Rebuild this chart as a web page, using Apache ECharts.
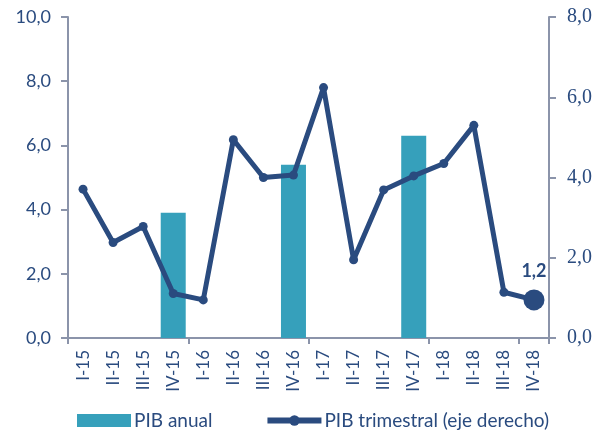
<!DOCTYPE html>
<html>
<head>
<meta charset="utf-8">
<script src="https://cdn.jsdelivr.net/npm/echarts@6/dist/echarts.min.js"></script>
<style>html,body{margin:0;padding:0;background:#fff}#c{width:605px;height:434px}</style>
</head>
<body>
<div id="c"></div>
<script>
var categories = ['I-15','II-15','III-15','IV-15','I-16','II-16','III-16','IV-16','I-17','II-17','III-17','IV-17','I-18','II-18','III-18','IV-18'];
var pibAnual = [null,null,null,3.9,null,null,null,5.4,null,null,null,6.3,null,null,null,null];
var pibTrimestral = [3.71,2.38,2.78,1.11,0.95,4.94,4.0,4.06,6.24,1.95,3.69,4.04,4.35,5.30,1.14,0.95];
var lastLabel = '1,2';
var leftTicks = [0,2,4,6,8,10];
var rightTicks = [0,2,4,6,8];

var navy = '#2a4b7f', teal = '#36a0bb', axisCol = '#8b94aa';
var chart = echarts.init(document.getElementById('c'));
var lineData = pibTrimestral.map(function(v,i){
  if (i === pibTrimestral.length-1) {
    return {value:v, symbolSize:21, label:{show:true, position:'top', distance:9, formatter:lastLabel,
      fontFamily:'Lato', fontWeight:'bold', fontSize:18, color:navy}};
  }
  return v;
});
chart.setOption({
  animation:false,
  grid:{left:68,right:56,top:17,bottom:96},
  legend:{
    left:72, top:406, itemWidth:54, itemHeight:13, itemGap:52,
    textStyle:{fontFamily:'Lato', fontSize:19, color:navy, padding:[0,0,0,-2]},
    data:[{name:'PIB anual', icon:'rect'},
          {name:'PIB trimestral (eje derecho)', lineStyle:{width:6}, itemStyle:{color:navy}}]
  },
  xAxis:{
    type:'category', data:categories, boundaryGap:true,
    axisLine:{lineStyle:{color:axisCol,width:2}},
    axisTick:{show:true, interval:3, length:6, lineStyle:{color:axisCol,width:2}},
    axisLabel:{rotate:90, interval:0, margin:12, fontFamily:'Lato', fontSize:17, color:navy}
  },
  yAxis:[{
    type:'value', min:leftTicks[0], max:leftTicks[leftTicks.length-1], interval:2,
    splitLine:{show:false},
    axisLine:{show:true, lineStyle:{color:axisCol,width:2}},
    axisTick:{show:true, length:7, lineStyle:{color:axisCol,width:2}},
    axisLabel:{margin:17, fontFamily:'Lato', fontSize:18, color:navy,
      formatter:function(v){return v.toFixed(1).replace('.',',');}}
  },{
    type:'value', min:rightTicks[0], max:rightTicks[rightTicks.length-1], interval:2,
    splitLine:{show:false},
    axisLine:{show:true, lineStyle:{color:axisCol,width:2}},
    axisTick:{show:true, length:7, lineStyle:{color:axisCol,width:2}},
    axisLabel:{margin:18, fontFamily:'Liberation Serif', fontSize:20, color:navy,
      formatter:function(v){return v.toFixed(1).replace('.',',');}}
  }],
  series:[{
    name:'PIB anual', type:'bar', yAxisIndex:0, data:pibAnual, barWidth:25,
    itemStyle:{color:teal}
  },{
    name:'PIB trimestral (eje derecho)', type:'line', yAxisIndex:1, data:lineData,
    symbol:'circle', symbolSize:9, lineStyle:{color:navy,width:5}, itemStyle:{color:navy}
  }]
});
</script>
</body>
</html>
